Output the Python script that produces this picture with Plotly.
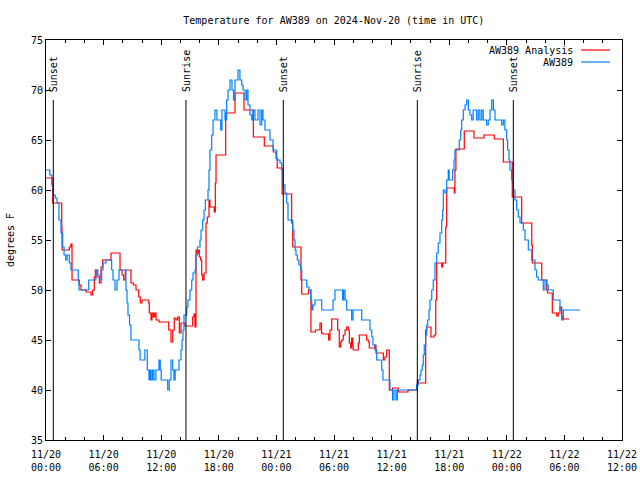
import pandas as pd
import plotly.graph_objects as go

# ---- data ----
base_time = "2024-11-20 00:00"

obs_hours = [0.0, 0.4, 0.6, 0.75, 0.97, 1.15, 1.35, 1.56, 1.74, 1.88, 2.05, 2.2, 2.43, 2.6, 3.36, 3.44,
             4.45, 5.2, 5.4, 5.6, 5.8, 5.94, 6.25, 6.84, 6.98, 7.19, 7.4, 7.6, 8.33, 8.44, 8.54, 8.7,
             8.85, 9.69, 9.8, 10.3, 10.55, 10.73, 10.85, 10.95, 11.1, 11.25, 11.45, 11.77, 11.9, 12.0,
             12.68, 12.84, 13.02, 13.2, 13.33, 13.45, 13.85, 14.06, 14.17, 14.27, 14.375, 14.66, 14.79,
             15.0, 15.18, 15.31, 15.52, 15.625, 15.78, 16.04, 16.15, 16.32, 16.46, 16.6, 16.875, 16.98,
             17.08, 17.26, 17.4, 17.6, 17.8, 18.2, 18.33, 18.65, 18.82, 18.96, 19.17, 19.375, 19.53,
             19.69, 20.0, 20.2, 20.39, 20.52, 20.73, 20.9, 21.04, 21.25, 21.43, 21.56, 21.77, 22.08,
             22.29, 22.47, 22.6, 22.81, 23.33, 23.65, 24.03, 24.375, 24.55, 24.69, 24.9, 25.07, 25.21,
             25.7, 25.83, 25.94, 26.04, 26.18, 26.35, 26.53, 26.64, 27.16, 27.4, 27.57, 27.68, 27.8,
             28.02, 28.72, 29.9, 30.1, 30.9, 31.0, 31.15, 31.32, 31.84, 31.98, 32.89, 33.75, 33.93,
             34.06, 34.27, 34.45, 34.97, 35.1, 35.83, 36.1, 36.25, 36.46, 36.6, 38.6, 38.78, 38.96,
             39.06, 39.2, 39.3, 39.4, 39.55, 39.66, 39.76, 39.9, 40.0, 40.18, 40.34, 40.52, 40.7,
             40.86, 41.04, 41.22, 41.32, 41.39, 41.56, 41.74, 41.9, 42.0, 42.36, 42.5, 42.6, 43.05,
             43.2, 43.3, 43.47, 43.65, 43.82, 44.0, 44.17, 44.34, 44.5, 44.86, 45.03, 45.2, 45.39,
             45.55, 45.9, 46.07, 46.25, 46.43, 46.6, 46.77, 47.47, 47.64, 47.8, 47.99, 48.09, 48.23,
             48.33, 48.5, 48.68, 48.85, 49.03, 49.2, 49.375, 49.72, 49.9, 50.24, 50.6, 50.94, 51.1,
             51.28, 51.8, 51.98, 52.16, 52.32, 52.84, 53.54, 53.72, 53.89, 55.6]
obs_temp = [62.0, 61.5, 60.5, 59.5, 59.2, 58.7, 57.0, 55.7, 54.3, 53.5, 53.0, 53.5, 52.7, 52.0, 50.9, 50.0,
            51.0, 52.0, 51.5, 51.0, 52.0, 52.7, 53.0, 52.0, 51.0, 50.0, 51.0, 52.0, 50.0, 48.7, 47.5, 46.5,
            45.0, 44.0, 43.0, 44.0, 42.0, 41.0, 42.0, 41.0, 42.0, 41.0, 42.0, 43.0, 42.0, 41.0,
            40.0, 41.0, 43.0, 42.0, 41.0, 42.0, 43.0, 44.0, 45.0, 46.0, 47.5, 48.3, 49.0,
            50.0, 51.0, 51.7, 52.0, 53.5, 54.3, 55.0, 56.0, 57.0, 58.0, 59.0, 60.0, 62.0,
            64.0, 65.5, 67.0, 68.0, 67.0, 66.0, 68.0, 67.0, 69.0, 70.0, 71.0, 70.0, 69.0,
            71.0, 72.0, 71.0, 70.5, 70.0, 69.0, 70.0, 68.5, 67.5, 67.0, 68.0, 67.0, 68.0,
            66.5, 68.0, 67.0, 66.0, 65.0, 64.0, 63.0, 62.7, 62.0, 60.5, 59.7, 58.7, 57.0,
            56.0, 55.0, 54.0, 53.5, 53.0, 52.5, 52.0, 51.0, 50.3, 50.0, 49.0, 48.0, 48.5,
            49.0, 48.0, 49.0, 50.0, 49.0, 50.0, 49.0, 48.0, 47.0, 48.0, 47.0, 46.0, 45.3,
            44.5, 44.0, 43.0, 42.0, 41.0, 40.0, 39.0, 40.0, 39.0, 40.0, 40.5, 41.0, 41.5,
            42.0, 42.5, 43.5, 44.5, 45.5, 46.5, 47.0, 48.0, 49.0, 50.0, 51.0, 52.7, 53.7,
            54.7, 55.7, 57.0, 58.0, 60.0, 59.7, 61.0, 62.0, 61.0, 62.0, 63.0, 64.0, 65.0,
            66.0, 67.0, 68.0, 68.5, 69.0, 68.0, 67.5, 67.0, 68.0, 67.0, 68.0, 67.0, 68.0,
            67.0, 66.5, 67.0, 68.0, 69.0, 68.0, 67.0, 66.5, 67.0, 66.0, 65.0, 64.0, 63.0,
            62.0, 61.0, 60.0, 59.0, 58.0, 57.3, 56.7, 56.0, 55.0, 54.0, 53.0, 52.0, 51.3,
            51.0, 50.0, 51.0, 50.5, 50.0, 49.0, 48.0, 47.0, 48.0, 48.0]

ana_hours = [0.0, 0.7, 1.64, 1.67, 2.43, 2.6, 2.71, 3.47, 3.65, 4.17, 4.69, 4.86, 5.03, 5.14, 5.3, 5.55,
             5.73, 5.9, 6.77, 7.71, 7.92, 8.09, 8.26, 8.85, 9.1, 9.375, 9.66, 9.82, 10.0, 10.7, 10.76,
             10.94, 11.04, 11.18, 11.32, 11.46, 11.77, 12.78, 13.02, 13.2, 13.36, 13.54, 13.72, 13.89,
             14.06, 14.48, 15.28, 15.42, 15.52, 15.625, 15.76, 15.87, 15.97, 16.11, 16.22, 16.32, 16.46,
             16.67, 16.8, 16.98, 17.08, 17.53, 17.64, 17.71, 18.72, 19.69, 20.625, 21.6, 22.74, 23.68,
             23.96, 24.09, 24.6, 25.59, 25.7, 26.56, 26.64, 27.34, 27.6, 28.07, 28.54, 28.7, 28.85,
             29.44, 29.58, 29.76, 30.38, 30.55, 30.7, 30.8, 30.97, 31.15, 31.32, 31.49, 31.6, 31.74,
             31.84, 31.95, 32.0, 32.53, 32.64, 33.4, 33.57, 33.68, 34.27, 34.375, 35.14, 35.3, 35.49,
             35.76, 36.1, 36.7, 37.71, 38.68, 38.78, 39.55, 39.66, 40.1, 40.42, 40.6, 40.7, 41.22,
             41.32, 41.64, 41.74, 42.53, 42.6, 42.7, 43.57, 44.58, 45.625, 46.7, 47.64, 48.57, 49.55,
             50.6, 50.66, 51.64, 52.16, 52.24, 52.74, 53.2, 53.36, 53.54, 53.72, 53.82, 54.5]
ana_temp = [61.2, 58.7, 56.3, 54.0, 54.3, 54.6, 51.0, 50.5, 50.0, 49.8, 49.5, 50.0, 51.3, 52.0, 51.3, 50.7,
            52.3, 53.0, 53.7, 52.0, 51.5, 51.0, 52.0, 50.7, 50.5, 50.0, 49.3, 48.7, 49.0, 48.7, 47.7,
            47.0, 47.7, 47.3, 47.7, 47.0, 46.8, 46.0, 44.8, 46.0, 47.2, 47.0, 47.3, 45.7,
            46.7, 46.4, 47.3, 47.6, 46.3, 54.0, 53.7, 54.0, 53.3, 53.0, 51.5, 51.0, 51.7,
            56.7, 57.3, 59.0, 58.3, 57.8, 60.7, 63.5, 67.7, 69.7, 68.0, 65.3, 64.4, 63.8,
            63.2, 62.2, 59.6, 56.7, 54.3, 51.0, 49.6, 50.0, 45.8, 46.0, 46.7, 45.7, 45.6,
            45.0, 46.0, 47.1, 46.0, 44.3, 44.8, 45.0, 45.5, 46.0, 46.3, 46.0, 44.7, 44.2,
            45.2, 44.5, 44.0, 44.7, 45.5, 45.0, 44.8, 44.2, 44.5, 43.7, 43.0, 43.3, 44.0,
            40.0, 40.2, 39.8, 40.0, 41.0, 40.7, 46.0, 46.3, 45.3, 45.5, 49.0, 52.7, 52.3,
            52.7, 56.3, 60.2, 59.7, 62.0, 64.1, 65.9, 65.2, 65.5, 65.1, 62.8, 59.3, 56.7,
            54.5, 52.7, 51.0, 50.0, 49.7, 47.7, 47.4, 47.7, 48.3, 47.3, 47.1, 47.1]

sun_event_hours = [0.76, 14.58, 24.72, 38.68, 48.68]
sun_event_labels = ["Sunset", "Sunrise", "Sunset", "Sunrise", "Sunset"]

series_names = ["AW389 Analysis", "AW389"]
series_colors = ["#ff0000", "#0080ff"]

# ---- build ----
t0 = pd.Timestamp(base_time)
def to_time(hours):
    return [t0 + pd.Timedelta(hours=h) for h in hours]

FONT = "DejaVu Sans Mono"
fig = go.Figure()
fig.add_trace(go.Scatter(x=to_time(ana_hours), y=ana_temp, mode="lines", line_shape="hv",
                         line=dict(color=series_colors[0], width=1.2), name=series_names[0],
                         showlegend=False))
fig.add_trace(go.Scatter(x=to_time(obs_hours), y=obs_temp, mode="lines", line_shape="hv",
                         line=dict(color=series_colors[1], width=1.2), name=series_names[1],
                         showlegend=False))

shapes = []
annotations = []
for h, lab in zip(sun_event_hours, sun_event_labels):
    t = t0 + pd.Timedelta(hours=h)
    shapes.append(dict(type="line", xref="x", yref="y", x0=t, x1=t, y0=35, y1=69,
                       line=dict(color="black", width=1)))
    annotations.append(dict(x=t, y=69.6, xref="x", yref="y", text=lab, textangle=-90,
                            showarrow=False, xanchor="center", yanchor="bottom",
                            font=dict(family=FONT, size=10, color="black")))

# manual gnuplot-style key (text right-aligned, sample on the right)
for i, (nm, col) in enumerate(zip(series_names, series_colors)):
    yk = 0.975 - i * 0.03
    annotations.append(dict(x=0.918, y=yk, xref="paper", yref="paper", text=nm,
                            showarrow=False, xanchor="right", yanchor="middle",
                            font=dict(family=FONT, size=10, color="black")))
    shapes.append(dict(type="line", xref="paper", yref="paper", x0=0.929, x1=0.979,
                       y0=yk, y1=yk, line=dict(color=col, width=1.2)))

fig.update_layout(
    width=640, height=480,
    margin=dict(l=46, r=18, t=40, b=40, autoexpand=False),
    paper_bgcolor="white", plot_bgcolor="white",
    font=dict(family=FONT, size=10, color="black"),
    title=dict(text="Temperature for AW389 on 2024-Nov-20 (time in UTC)", x=0.5216, xanchor="center",
               y=0.958, yanchor="middle", font=dict(family=FONT, size=10, color="black")),
    shapes=shapes, annotations=annotations,
    showlegend=False,
)
fig.update_xaxes(
    type="date", automargin=False,
    range=[t0, t0 + pd.Timedelta(hours=60)],
    tick0=t0, dtick=6 * 3600 * 1000, tickformat="%m/%d<br>%H:%M",
    ticks="inside", ticklen=5, tickcolor="black", tickwidth=1,
    ticklabelstandoff=5,
    minor=dict(dtick=2 * 3600 * 1000, ticks="inside", ticklen=3, tickcolor="black", tickwidth=1, showgrid=False),
    showline=True, linecolor="black", linewidth=1, mirror="allticks",
    showgrid=False, zeroline=False,
    tickfont=dict(family=FONT, size=10, color="black"),
)
fig.update_yaxes(
    automargin=False,
    range=[35, 75], dtick=5, tick0=35,
    ticks="inside", ticklen=5, tickcolor="black", tickwidth=1,
    showline=True, linecolor="black", linewidth=1, mirror="allticks",
    showgrid=False, zeroline=False,
    title=dict(text="degrees F", standoff=14, font=dict(family=FONT, size=10, color="black")),
    tickfont=dict(family=FONT, size=10, color="black"),
)

fig.write_html("out.html", config={"displayModeBar": False},
               post_script="document.body.style.margin='0px';")
